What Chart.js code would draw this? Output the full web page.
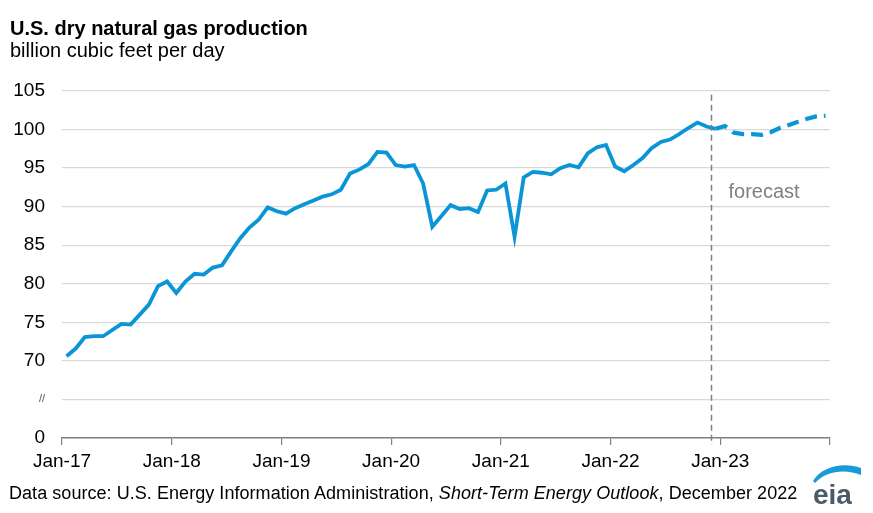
<!DOCTYPE html>
<html>
<head>
<meta charset="utf-8">
<script src="https://cdn.jsdelivr.net/npm/chart.js@4.4.1/dist/chart.umd.min.js"></script>
<style>
  html, body { margin: 0; padding: 0; background: #fff; }
  #wrap { position: relative; width: 873px; height: 513px; font-family: "Liberation Sans", Arial, sans-serif; color: #000; }
  #chart { position: absolute; left: 0; top: 0; }
  .txt { position: absolute; white-space: nowrap; }
  #title { left: 10px; top: 18px; font-size: 20px; line-height: 20px; font-weight: bold; }
  #subtitle { left: 10px; top: 40px; font-size: 20px; line-height: 20px; }
  #source { left: 9px; top: 484px; font-size: 18px; line-height: 18px; letter-spacing: 0.05px; }
  #logo { position: absolute; left: 810px; top: 461px; width: 52px; height: 46px; }
</style>
</head>
<body>
<div id="wrap">
  <canvas id="chart" width="873" height="513"></canvas>
  <div class="txt" id="title">U.S. dry natural gas production</div>
  <div class="txt" id="subtitle">billion cubic feet per day</div>
  <div class="txt" id="source">Data source: U.S. Energy Information Administration, <i>Short-Term Energy Outlook</i>, December 2022</div>
  <svg id="logo" viewBox="0 0 52 46">
    <path d="M3 20 C 12 5, 34 1, 51 7 L 51 14 C 36 8, 17 9, 5 22 Z" fill="#1a9ad6"/>
    <text x="3" y="43" font-family="Liberation Sans, Arial, sans-serif" font-size="28" font-weight="bold" fill="#4a5a68">eia</text>
  </svg>
</div>
<script>
// month index 0 = Jan-17, ticks every 12 months
const yearLabels = ["Jan-17", "Jan-18", "Jan-19", "Jan-20", "Jan-21", "Jan-22", "Jan-23", ""];
const yTickLabels = ["0", "//", "70", "75", "80", "85", "90", "95", "100", "105"];

// history, Jan-17 .. Dec-22
const hist2017 = [70.6, 71.6, 73.1, 73.2, 73.2, 74.0, 74.8, 74.7, 76.0, 77.3, 79.7, 80.3];
const hist2018 = [78.8, 80.3, 81.3, 81.2, 82.1, 82.4, 84.2, 85.9, 87.3, 88.3, 89.9, 89.4];
const hist2019 = [89.1, 89.8, 90.3, 90.8, 91.3, 91.6, 92.2, 94.3, 94.8, 95.5, 97.1, 97.0];
const hist2020 = [95.4, 95.2, 95.4, 93.0, 87.4, 88.8, 90.2, 89.7, 89.8, 89.3, 92.1, 92.2];
const hist2021 = [93.0, 86.1, 93.8, 94.5, 94.4, 94.2, 95.0, 95.4, 95.1, 96.9, 97.7, 98.0];
const hist2022 = [95.2, 94.6, 95.4, 96.3, 97.6, 98.4, 98.7, 99.4, 100.2, 100.9, 100.4, 100.1];
// forecast, Dec-22 .. Dec-23
const forecast = [100.1, 100.45, 99.6, 99.4, 99.4, 99.3, 99.65, 100.2, 100.6, 101.0, 101.4, 101.7, 101.8];
const forecastStart = 71; // Dec-22

const history = [].concat(hist2017, hist2018, hist2019, hist2020, hist2021, hist2022);
const histPoints = history.map((v, i) => ({ x: i + 0.5, y: v }));
const fcstPoints = forecast.map((v, i) => ({ x: forecastStart + i + 0.5, y: v }));

const blue = "#0a96d6";
const font = "Liberation Sans";

const forecastMarker = {
  id: "forecastMarker",
  afterDraw(chart) {
    const { ctx, scales } = chart;
    const x = Math.round(scales.x.getPixelForValue(forecastStart)) + 0.5;
    ctx.save();
    ctx.strokeStyle = "#7f7f7f";
    ctx.lineWidth = 1.5;
    ctx.setLineDash([6, 4]);
    ctx.beginPath();
    ctx.moveTo(x, scales.y.getPixelForValue(104.5));
    ctx.lineTo(x, chart.chartArea.bottom + 7);
    ctx.stroke();
    ctx.setLineDash([]);
    ctx.fillStyle = "#808080";
    ctx.font = "20px " + font;
    ctx.textBaseline = "middle";
    ctx.fillText("forecast", x + 17, scales.y.getPixelForValue(91.8));
    ctx.restore();
  }
};

new Chart(document.getElementById("chart"), {
  type: "line",
  data: {
    datasets: [
      {
        label: "history",
        data: histPoints,
        borderColor: blue,
        borderWidth: 3.8,
        pointRadius: 0,
        tension: 0,
        fill: false
      },
      {
        label: "forecast",
        data: fcstPoints,
        borderColor: blue,
        borderWidth: 4.2,
        borderDash: [12, 7],
        pointRadius: 0,
        tension: 0,
        fill: false
      }
    ]
  },
  options: {
    responsive: false,
    animation: false,
    devicePixelRatio: 1,
    layout: { padding: { left: 0, top: 91, right: 43, bottom: 0 } },
    plugins: {
      legend: { display: false },
      tooltip: { enabled: false }
    },
    scales: {
      x: {
        type: "linear",
        min: 0,
        max: 84,
        afterFit(scale) { scale.height = 75; },
        afterBuildTicks(scale) {
          scale.ticks = yearLabels.map((_, i) => ({ value: i * 12 }));
        },
        ticks: {
          autoSkip: false,
          maxRotation: 0,
          padding: 5,
          color: "#000",
          font: { family: font, size: 19 },
          callback: (v) => yearLabels[Math.round(v / 12)]
        },
        grid: {
          drawOnChartArea: false,
          drawTicks: true,
          tickLength: 7,
          color: "#7f7f7f",
          lineWidth: 1.2
        },
        border: { display: true, color: "#7f7f7f", width: 1.5 }
      },
      y: {
        min: 60,
        max: 105,
        afterFit(scale) { scale.width = 62; },
        ticks: {
          stepSize: 5,
          padding: 17,
          color: (ctx) => (ctx.tick && ctx.tick.value === 65 ? "#555" : "#000"),
          font: (ctx) => ({ family: font, size: ctx.tick && ctx.tick.value === 65 ? 11 : 19 }),
          callback: (v) => yTickLabels[Math.round((v - 60) / 5)]
        },
        grid: {
          drawTicks: false,
          color: (ctx) => (ctx.tick && ctx.tick.value === 60 ? "rgba(0,0,0,0)" : "#d9d9d9"),
          lineWidth: 1.3
        },
        border: { display: false }
      }
    }
  },
  plugins: [forecastMarker]
});
</script>
</body>
</html>
